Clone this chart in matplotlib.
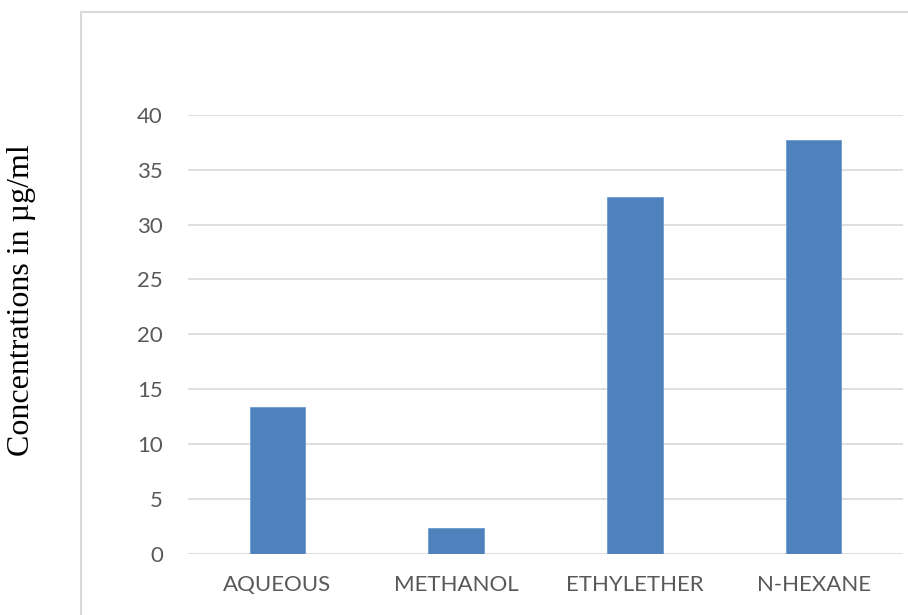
import numpy as np
import matplotlib.pyplot as plt
from matplotlib.patches import Rectangle

categories = ["AQUEOUS", "METHANOL", "ETHYLETHER", "N-HEXANE"]
values = [13.4, 2.4, 32.5, 37.7]
yticks = [0, 5, 10, 15, 20, 25, 30, 35, 40]

fig = plt.figure(figsize=(9.08, 6.15), dpi=100)

# chart frame (runs off the right and bottom edges in the original)
fig.patches.append(Rectangle((81 / 908, -0.1), 1.0, 1 - 12 / 615 + 0.1,
                             transform=fig.transFigure, fill=False,
                             edgecolor="#d9d9d9", linewidth=1.5))

ax = fig.add_axes([188 / 908, 1 - 554 / 615, (903 - 188) / 908, (554 - 114.7) / 615])
x = np.arange(len(categories))
ax.bar(x, values, width=0.31, color="#4f81bd", edgecolor="#6f9bd1", linewidth=0.6, zorder=3)

ax.set_xlim(-0.5, len(categories) - 0.5)
ax.set_ylim(0, 40)
ax.set_yticks(yticks)
ax.set_xticks(x)
ax.set_xticklabels(categories)
ax.grid(axis="y", color="#d9d9d9", linewidth=1.2, zorder=0)
for s in ax.spines.values():
    s.set_visible(False)
ax.tick_params(length=0, colors="#595959", labelsize=16)
ax.tick_params(axis="y", pad=18)
ax.tick_params(axis="x", pad=15)
for lab in ax.get_xticklabels() + ax.get_yticklabels():
    lab.set_family("Lato")

fig.text(22 / 908, 1 - 300 / 615, "Concentrations in µg/ml", rotation=90,
         ha="center", va="center", fontsize=23, family="Liberation Serif", color="black")

fig.savefig("out.png", dpi=100)
